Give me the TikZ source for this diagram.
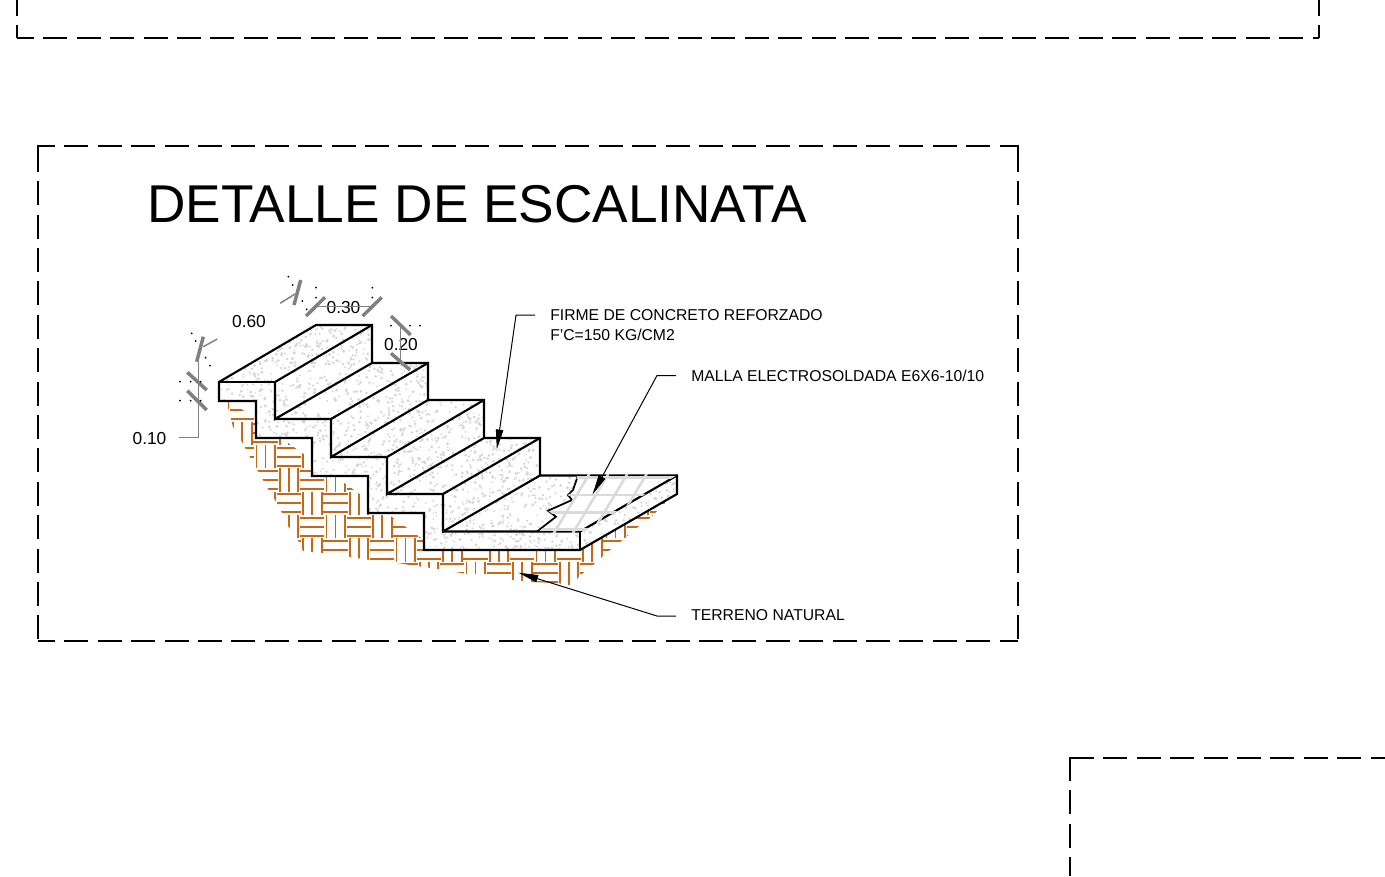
\documentclass[tikz,border=0pt]{standalone}
\usepackage{fontspec}
\setmainfont{Liberation Sans}
\usetikzlibrary{arrows.meta}
\definecolor{hatch}{HTML}{C4681A}
\definecolor{dim}{HTML}{808080}
\definecolor{stip}{HTML}{D4D4D4}
\definecolor{mesh}{HTML}{DADADA}
\tikzset{
  frameline/.style={black,line width=1.5pt,dash pattern=on 18pt off 7.05pt},
  cornerline/.style={black,line width=1.5pt},
  stairline/.style={black,line width=1.6pt,line join=miter},
  hatchline/.style={hatch,line width=1.3pt},
  dimline/.style={dim,line width=1.1pt},
  dimtick/.style={dim,line width=2.6pt},
  dimdot/.style={black},
  meshline/.style={mesh,line width=1.9pt},
  leader/.style={black,line width=0.75pt},
  leadertip/.style={leader,-{Triangle[length=15pt,width=5.5pt]}},
  dimtext/.style={font=\fontsize{13}{13}\selectfont,inner sep=0pt},
  notetext/.style={font=\fontsize{11.8}{15}\selectfont,inner sep=0pt,align=left},
}
\newcommand{\StairPath}{(219,382)--(316,325)--(372,325)--(372,363)--(428,363)--(428,400)--(484,400)--(484,438)--(540,438)--(540,475.5)--(677,475.5)--(677,494)--(580,550)--(424,550)--(424,513)--(368,513)--(368,476)--(312,476)--(312,438)--(256,438)--(256,401)--(219,401)--cycle}
\newcommand{\MeshPath}{(578,475.5)--(573,490)--(568,495)--(572,500)--(548,510.7)--(556,516.7)--(537,531.5)--(580,531.5)--(677,475.5)--cycle}
\begin{document}
\begin{tikzpicture}[x=0.75pt,y=-0.75pt]
\useasboundingbox (0,0) rectangle (1385,876);
% dashed frames
\draw[frameline,dash phase=5.25pt] (17,38) -- (1319,38);
\draw[frameline,dash phase=8.25pt] (17,38) -- (17,0);
\draw[frameline,dash phase=8.25pt] (1319,38) -- (1319,0);
\draw[frameline,dash phase=5.25pt] (38,145.5) -- (1018,145.5);
\draw[cornerline] (38,144.5) -- (38,148);
\draw[frameline] (38,147.7) -- (38,641.5);
\draw[frameline,dash phase=5.25pt] (38,641) -- (1018,641);
\draw[cornerline] (1018,144.5) -- (1018,148);
\draw[frameline] (1018,147.7) -- (1018,641.5);
\draw[frameline] (1070,758) -- (1385,758);
\draw[frameline] (1070,757) -- (1070,876);
% title
\node[anchor=base west,inner sep=0pt,font=\fontsize{39.9}{42}\selectfont] (title) at (147,222.5) {DETALLE DE ESCALINATA};
% terrain hatch
\begin{scope}
\clip (227,398)--(227,403)--(233,427)--(242,442)--(250,457)--(258,471)--(268,489)--(275,500)--(282,513)--(288,526)--(297,538)--(303,551)--(322,553)--(350,557)--(370,560)--(392,562)--(410,565)--(438,569)--(467,574)--(487,574)--(513,580)--(532,582)--(558,583)--(570,586)--(582,574)--(593,565)--(610,550)--(625,538)--(638,527)--(650,518)--(665,503)--(670,490)--(580,540)--(424,540)--(256,420)--cycle;
\foreach \c in {-2,...,18}{
  \foreach \r in {-3,...,6}{
    \pgfmathsetmacro{\xo}{253.33+23.33*\c}
    \pgfmathsetmacro{\yo}{445+23.33*\r}
    \pgfmathtruncatemacro{\parity}{mod(\c+\r+20,2)}
    \ifnum\parity=1
      \foreach \d in {2.67,11.67,20.67}
        \draw[hatchline] (\xo,\yo+\d) -- (\xo+24.3,\yo+\d);
    \else
      \foreach \d in {3.3,12.3,21.7}
        \draw[hatchline] (\xo+\d,\yo) -- (\xo+\d,\yo+23.33);
    \fi
  }
}
\end{scope}
% concrete with stipple
\fill[white] \StairPath;
\begin{scope}
\clip \StairPath;
\pgfmathsetseed{4242}
\foreach \i in {1,...,3600}{
  \pgfmathsetmacro{\px}{219+rnd*458}
  \pgfmathsetmacro{\py}{325+rnd*225}
  \pgfmathsetmacro{\pr}{0.8+rnd*0.8}
  \fill[stip] (\px,\py) circle[radius=\pr];
}
\end{scope}
% mesh area
\fill[white] \MeshPath;
% stair outlines
\draw[stairline] \StairPath;
\draw[stairline] (275,382) -- (219,382);
\draw[stairline] (275,382) -- (372,325);
\draw[stairline] (275,382) -- (275,419) -- (372,363);
\draw[stairline] (275,419) -- (331,419) -- (428,363);
\draw[stairline] (331,419) -- (331,457) -- (428,400);
\draw[stairline] (331,457) -- (387,457) -- (484,400);
\draw[stairline] (387,457) -- (387,494) -- (484,438);
\draw[stairline] (387,494) -- (443,494) -- (540,438);
\draw[stairline] (443,494) -- (443,531.5) -- (540,475.5);
\draw[stairline] (443,531.5) -- (580,531.5) -- (677,475.5);
\draw[stairline] (580,531.5) -- (580,550);
\draw[stairline,line width=1.3pt] (578,475.5)--(573,490)--(568,495)--(572,500)--(548,510.7)--(556,516.7)--(537,531.5);
% mesh
\begin{scope}
\clip (578,474)--(573,490)--(568,495)--(572,500)--(548,510.7)--(556,516.7)--(537,533)--(581,533)--(679,474)--cycle;
\foreach \yy in {477.5,495,512.5,529.5}
  \draw[meshline] (530,\yy) -- (680,\yy);
\foreach \xx in {589.3,608.3,627.3,646.7}
  \draw[meshline] (\xx,474) -- (\xx-36,534);
\end{scope}
% leaders
\coordinate (firmeA) at (535,315);
\coordinate (firmeB) at (516,315);
\coordinate (firmeT) at (496.8,449.5);
\coordinate (mallaA) at (676,375.5);
\coordinate (mallaB) at (657,375.5);
\coordinate (mallaT) at (592.5,494.5);
\coordinate (terrA) at (676,616);
\coordinate (terrB) at (657,616);
\coordinate (terrT) at (518.3,572.7);
\draw[leadertip] (firmeA) -- (firmeB) -- (firmeT);
\draw[leadertip] (mallaA) -- (mallaB) -- (mallaT);
\draw[leadertip] (terrA) -- (terrB) -- (terrT);
\node[notetext,anchor=north west] (firme) at (550,309.5) {FIRME DE CONCRETO REFORZADO\\F'C=150 KG/CM2};
\node[notetext,anchor=west] (malla) at (691,375.5) {MALLA ELECTROSOLDADA E6X6-10/10};
\node[notetext,anchor=west] (terreno) at (691,615.5) {TERRENO NATURAL};
% dimensions
\node[dimtext] (d60) at (249,321.7) {0.60};
\node[dimtext] (d30) at (343.5,307.7) {0.30};
\node[dimtext] (d20) at (401,345) {0.20};
\node[dimtext] (d10) at (149.5,438.3) {0.10};
\draw[dimline] (179,437.7) -- (198.3,437.7) -- (198.3,361);
\draw[dimtick] (187.3,372.3) -- (206.7,390);
\draw[dimtick] (187.3,390.7) -- (206.7,410);
\draw[dimtick] (203.3,336.7) -- (196.7,361.7);
\draw[dimline] (203.3,346.7) -- (217.3,339);
\draw[dimtick] (300.7,280) -- (294,305);
\draw[dimline] (295,294) -- (280,303.3);
\draw[dimtick] (306,316) -- (325,297.3);
\draw[dimtick] (362.7,316) -- (381.7,297.3);
\draw[dimline] (316.7,306.7) -- (371.7,306.7);
\draw[dimtick] (391,316) -- (410.7,335);
\draw[dimtick] (391,353.3) -- (410,370);
\draw[dimline] (400.7,325) -- (400.7,362);
\foreach \p/\q in {191.7/333.3,195.7/341,205.7/357.7,210/365.7,180/381.7,190.7/381.7,200.7/381.7,180/400.7,190.7/400.7,200.7/400.7,288.3/276.7,292.7/285,302.3/301,306.7/309.3,316/287.7,316/297.5,372.3/287.7,372.3/297.5,391/325.7,410/325.7,420/325.7}
  \fill[dimdot] (\p,\q) circle[radius=1];
\end{tikzpicture}
\end{document}
